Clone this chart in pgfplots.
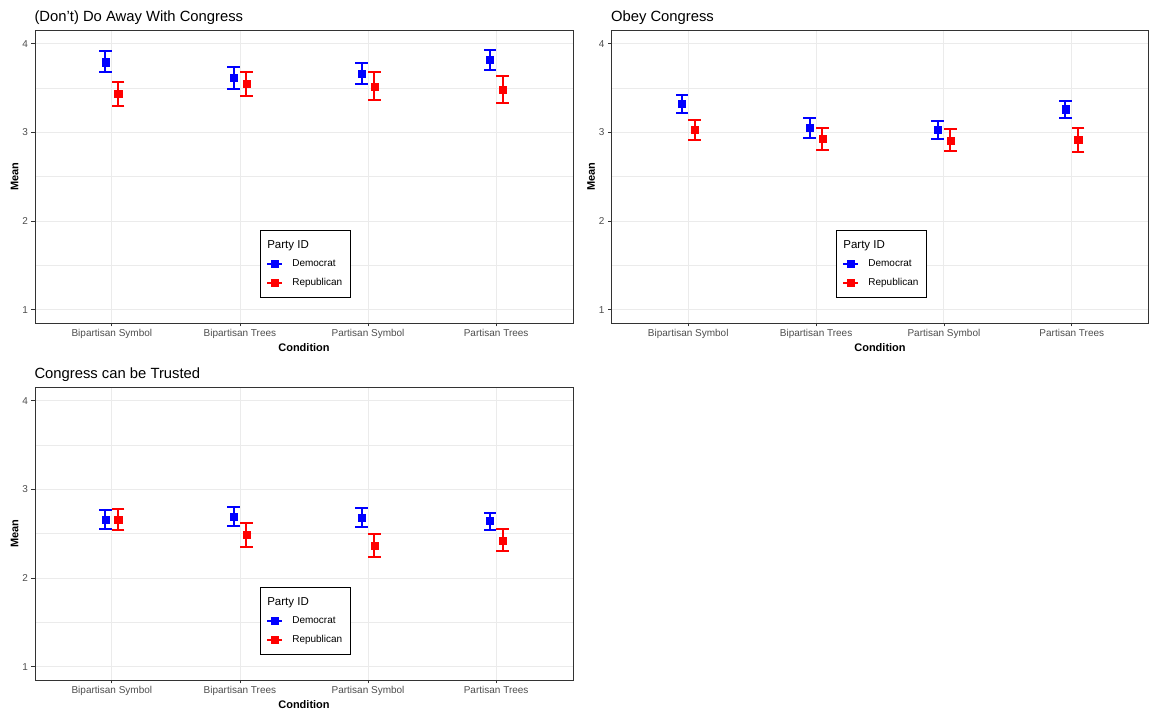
\documentclass[border=0pt]{standalone}
\usepackage{pgfplots}
\pgfplotsset{compat=1.18}
\usepackage{fontspec}
\setmainfont{Liberation Sans}
\definecolor{gridc}{HTML}{EBEBEB}
\definecolor{framec}{HTML}{333333}
\definecolor{tickc}{HTML}{4D4D4D}
\definecolor{dem}{RGB}{0,0,255}
\definecolor{rep}{RGB}{255,0,0}
\pgfplotsset{
  panel/.style={
    scale only axis, width=538pt, height=292.5pt,
    /pgf/number format/assume math mode=true,
    xmin=-0.6, xmax=3.6, ymin=0.85, ymax=4.15,
    xtick={0,1,2,3},
    xticklabels={Bipartisan Symbol, Bipartisan Trees, Partisan Symbol, Partisan Trees},
    ytick={1,2,3,4}, minor ytick={1.5,2.5,3.5},
    grid=both,
    major grid style={gridc, line width=0.9pt},
    minor grid style={gridc, line width=0.5pt},
    tick align=outside, tick pos=left,
    major tick length=3.5pt, minor tick length=0pt,
    every tick/.style={framec, line width=0.8pt},
    axis line style={framec, line width=0.9pt},
    ticklabel style={font=\fontsize{10}{12}\selectfont, text=tickc},
    xticklabel style={yshift=0.5pt},
    xlabel={Condition}, ylabel={Mean},
    label style={font=\fontsize{11}{13}\selectfont\bfseries},
    xlabel style={yshift=2pt},
    ylabel style={yshift=-3pt},
    title style={at={(0,1)}, anchor=base west, yshift=3pt, xshift=-4pt,
      font=\fontsize{14.8}{16}\selectfont},
    unbounded coords=jump,
    legend cell align=left,
    legend style={at={(0.418,0.318)}, anchor=north west,
      draw=black, line width=0.8pt, fill=white,
      inner xsep=6pt, inner ysep=8pt, row sep=6pt,
      font=\fontsize{10}{12}\selectfont,
      /tikz/every odd column/.append style={column sep=7pt}},
  },
  demleg/.style={legend image code/.code={
    \draw[dem, line width=2pt] (0pt,0pt) -- (15pt,0pt);
    \fill[dem] (4pt,-3.5pt) rectangle (11pt,3.5pt);}},
  repleg/.style={legend image code/.code={
    \draw[rep, line width=2pt] (0pt,0pt) -- (15pt,0pt);
    \fill[rep] (4pt,-3.5pt) rectangle (11pt,3.5pt);}},
  dempt/.style={demleg, only marks, color=dem, mark=square*, mark size=3.6pt,
    mark options={fill=dem, draw=dem, line width=0.4pt}},
  reppt/.style={repleg, only marks, color=rep, mark=square*, mark size=3.6pt,
    mark options={fill=rep, draw=rep, line width=0.4pt}},
  demci/.style={forget plot, color=dem, line width=2pt, mark=-, mark size=6.2pt,
    mark options={solid, line width=2pt}},
  repci/.style={forget plot, color=rep, line width=2pt, mark=-, mark size=6.2pt,
    mark options={solid, line width=2pt}},
}
\newcommand{\legtitle}{\addlegendimage{empty legend}\addlegendentry{\hspace*{-25pt}\fontsize{11.5}{13}\selectfont Party ID\rule[-5pt]{0pt}{1pt}}}
\begin{document}
\begin{tikzpicture}
\path[use as bounding box] (0,0) rectangle (1150pt,711pt);

% Panel 1: (Don't) Do Away With Congress
\begin{axis}[panel, at={(35pt,388pt)}, anchor=south west,
  title={(Don't) Do Away With Congress}]
\legtitle
% confidence intervals (lower, upper)
\addplot[demci] coordinates {
  (-0.05,3.677) (-0.05,3.914) (-0.05,nan)
  (0.95,3.492) (0.95,3.741) (0.95,nan)
  (1.95,3.541) (1.95,3.778) (1.95,nan)
  (2.95,3.707) (2.95,3.925)
};
\addplot[repci] coordinates {
  (0.05,3.293) (0.05,3.571) (0.05,nan)
  (1.05,3.414) (1.05,3.684) (1.05,nan)
  (2.05,3.368) (2.05,3.677) (2.05,nan)
  (3.05,3.331) (3.05,3.639)
};
\addplot[dempt] coordinates {(-0.05,3.793) (0.95,3.620) (1.95,3.662) (2.95,3.820)};
\addlegendentry{Democrat}
\addplot[reppt] coordinates {(0.05,3.436) (1.05,3.549) (2.05,3.519) (3.05,3.481)};
\addlegendentry{Republican}
\end{axis}

% Panel 2: Obey Congress
\begin{axis}[panel, at={(611.5pt,388pt)}, anchor=south west, width=537pt,
  title={Obey Congress}]
\legtitle
\addplot[demci] coordinates {
  (-0.05,3.214) (-0.05,3.425) (-0.05,nan)
  (0.95,2.940) (0.95,3.162) (0.95,nan)
  (1.95,2.921) (1.95,3.124) (1.95,nan)
  (2.95,3.162) (2.95,3.357)
};
\addplot[repci] coordinates {
  (0.05,2.917) (0.05,3.143) (0.05,nan)
  (1.05,2.797) (1.05,3.049) (1.05,nan)
  (2.05,2.786) (2.05,3.034) (2.05,nan)
  (3.05,2.778) (3.05,3.049)
};
\addplot[dempt] coordinates {(-0.05,3.323) (0.95,3.049) (1.95,3.030) (2.95,3.263)};
\addlegendentry{Democrat}
\addplot[reppt] coordinates {(0.05,3.030) (1.05,2.925) (2.05,2.910) (3.05,2.917)};
\addlegendentry{Republican}
\end{axis}

% Panel 3: Congress can be Trusted
\begin{axis}[panel, at={(35pt,31pt)}, anchor=south west,
  title={Congress can be Trusted}]
\legtitle
\addplot[demci] coordinates {
  (-0.05,2.553) (-0.05,2.767) (-0.05,nan)
  (0.95,2.590) (0.95,2.797) (0.95,nan)
  (1.95,2.571) (1.95,2.786) (1.95,nan)
  (2.95,2.541) (2.95,2.737)
};
\addplot[repci] coordinates {
  (0.05,2.538) (0.05,2.774) (0.05,nan)
  (1.05,2.346) (1.05,2.624) (1.05,nan)
  (2.05,2.233) (2.05,2.496) (2.05,nan)
  (3.05,2.301) (3.05,2.553)
};
\addplot[dempt] coordinates {(-0.05,2.662) (0.95,2.688) (1.95,2.684) (2.95,2.643)};
\addlegendentry{Democrat}
\addplot[reppt] coordinates {(0.05,2.662) (1.05,2.489) (2.05,2.365) (3.05,2.421)};
\addlegendentry{Republican}
\end{axis}
\end{tikzpicture}
\end{document}
